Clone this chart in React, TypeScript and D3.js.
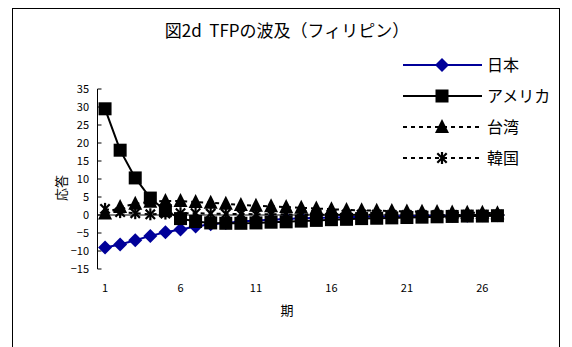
import React from "react";
import * as d3 from "d3";

const periods = d3.range(1, 28);
const japan = [-9.0, -8.2, -7.0, -5.8, -4.8, -4.0, -3.2, -2.6, -2.2, -1.8, -1.5, -1.3, -1.1, -0.9, -0.8, -0.7, -0.6, -0.5, -0.4, -0.4, -0.3, -0.3, -0.2, -0.2, -0.2, -0.1, -0.1];
const america = [29.5, 18.0, 10.3, 4.7, 1.2, -1.0, -1.8, -2.2, -2.3, -2.3, -2.2, -2.0, -1.9, -1.7, -1.5, -1.3, -1.2, -1.0, -0.9, -0.8, -0.7, -0.6, -0.5, -0.4, -0.3, -0.3, -0.2];
const taiwan = [0.4, 2.2, 3.1, 3.7, 3.9, 3.9, 3.6, 3.4, 3.1, 2.8, 2.6, 2.4, 2.2, 2.0, 1.8, 1.6, 1.4, 1.3, 1.2, 1.1, 1.0, 0.9, 0.8, 0.7, 0.6, 0.6, 0.5];
const korea = [1.7, 0.8, 0.5, 0.2, 0.4, 0.5, 0.5, 0.4, 0.3, 0.3, 0.2, 0.2, 0.2, 0.1, 0.1, 0.1, 0.1, 0.1, 0.1, 0.0, 0.0, 0.0, 0.0, 0.0, 0.0, 0.0, 0.0];
const yTicks = [35, 30, 25, 20, 15, 10, 5, 0, -5, -10, -15];
const xTickLabels = [1, 6, 11, 16, 21, 26];
const seriesNames = ["日本", "アメリカ", "台湾", "韓国"];

const FONT = "'Noto Sans CJK JP', 'Noto Sans', sans-serif";

type Marker = "diamond" | "square" | "triangle" | "asterisk";

function MarkerShape({ type, x, y, color }: { type: Marker; x: number; y: number; color: string }) {
  if (type === "diamond") {
    const r = 7;
    return <path d={`M${x},${y - r}L${x + r},${y}L${x},${y + r}L${x - r},${y}Z`} fill={color} />;
  }
  if (type === "square") {
    const r = 6.5;
    return <rect x={x - r} y={y - r} width={2 * r} height={2 * r} fill={color} />;
  }
  if (type === "triangle") {
    const r = 7;
    return <path d={`M${x},${y - r - 1}L${x + r},${y + r - 1}L${x - r},${y + r - 1}Z`} fill={color} />;
  }
  const r = 6;
  const d = r * 0.78;
  return (
    <g stroke={color} strokeWidth={2.2}>
      <line x1={x} y1={y - r} x2={x} y2={y + r} />
      <line x1={x - d} y1={y - d} x2={x + d} y2={y + d} />
      <line x1={x - d} y1={y + d} x2={x + d} y2={y - d} />
    </g>
  );
}

export default function App() {
  const W = 572, H = 347;
  const plotLeft = 97.5, plotRight = 505;
  const x = d3.scaleBand<number>().domain(periods).range([plotLeft, plotRight]);
  const xc = (p: number) => (x(p) as number) + x.bandwidth() / 2;
  const y = d3.scaleLinear().domain([-15, 35]).range([269, 89]);

  const series: { name: string; values: number[]; color: string; dash?: string; marker: Marker }[] = [
    { name: seriesNames[0], values: japan, color: "#000099", marker: "diamond" },
    { name: seriesNames[1], values: america, color: "#000000", marker: "square" },
    { name: seriesNames[2], values: taiwan, color: "#000000", dash: "4,4", marker: "triangle" },
    { name: seriesNames[3], values: korea, color: "#000000", dash: "4,4", marker: "asterisk" },
  ];

  const line = d3.line<number>().x((_, i) => xc(periods[i])).y((v) => y(v));

  return (
    <svg width={W} height={H} style={{ position: "absolute", left: 0, top: 0, fontFamily: FONT }}>
      <rect x={0} y={0} width={W} height={H} fill="#fff" />
      <rect x={12.5} y={8.5} width={547} height={345} fill="#fff" stroke="#000" strokeWidth={1} />
      <text x={287} y={37} textAnchor="middle" fontSize={17} fill="#000" style={{ whiteSpace: "pre" }}>{"図2d\u00a0\u00a0TFPの波及（フィリピン）"}</text>

      {/* y axis */}
      <line x1={plotLeft} y1={y(35)} x2={plotLeft} y2={y(-15)} stroke="#000" strokeWidth={1} />
      {yTicks.map((t) => (
        <g key={t}>
          <line x1={plotLeft} x2={plotLeft + 4} y1={y(t)} y2={y(t)} stroke="#000" />
          <text x={89} y={y(t) + 4} textAnchor="end" fontSize={11} fill="#000">
            {t < 0 ? "−" + Math.abs(t) : t}
          </text>
        </g>
      ))}
      {/* x axis at 0 */}
      <line x1={plotLeft} x2={plotRight} y1={y(0)} y2={y(0)} stroke="#000" />
      {xTickLabels.map((t) => (
        <text key={t} x={xc(t)} y={292} textAnchor="middle" fontSize={11} fill="#000">{t}</text>
      ))}
      <text x={287} y={315} textAnchor="middle" fontSize={13} fill="#000">期</text>
      <text transform={`translate(66,${y(7.5)}) rotate(-90)`} textAnchor="middle" fontSize={13} fill="#000">応答</text>

      {series.map((s) => (
        <g key={s.name}>
          <path d={line(s.values) || ""} fill="none" stroke={s.color} strokeWidth={2} strokeDasharray={s.dash} />
          {s.values.map((v, i) => (
            <MarkerShape key={i} type={s.marker} x={xc(periods[i])} y={y(v)} color={s.color} />
          ))}
        </g>
      ))}

      {/* legend */}
      {series.map((s, i) => {
        const ly = 65 + i * 31;
        return (
          <g key={s.name}>
            <line x1={403} x2={482} y1={ly} y2={ly} stroke={s.color} strokeWidth={2} strokeDasharray={s.dash} />
            <MarkerShape type={s.marker} x={442} y={ly} color={s.color} />
            <text x={487} y={ly + 6} fontSize={16} fill="#000">{s.name}</text>
          </g>
        );
      })}
    </svg>
  );
}
